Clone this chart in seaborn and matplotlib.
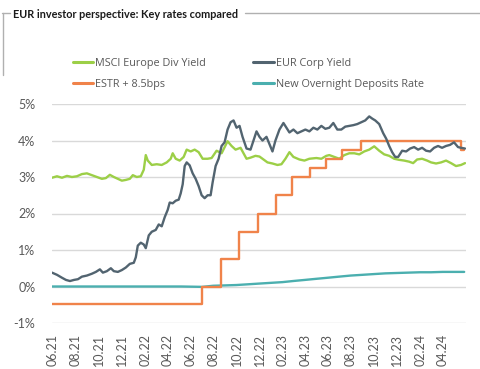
import matplotlib
matplotlib.use("Agg")
import matplotlib.pyplot as plt
import seaborn as sns
import pandas as pd
import numpy as np
from matplotlib.lines import Line2D

sns.set_theme(style="white")
plt.rcParams['font.family'] = ['Lato', 'DejaVu Sans']

# pixel-read positions converted to dates (x px -> date)
START = pd.Timestamp("2021-06-26")
def px_date(x):
    return START + pd.Timedelta(days=(x - 53) / 11.5 * 30.44)

msci_px = [52, 57, 62, 67, 72, 77, 82, 87, 92, 97, 102, 106, 110, 114, 118, 122, 126, 130, 133, 137,
           141, 144, 146, 148, 152, 157, 162, 167, 171, 173, 176, 180, 184, 187, 191, 195, 199, 203,
           208, 212, 217, 222, 228, 232, 236, 241, 247, 251, 256, 260, 264, 268, 273, 278, 282, 286,
           290, 294, 300, 305, 310, 317, 322, 327, 330, 335, 340, 345, 350, 355, 360, 365, 370, 375,
           380, 385, 390, 395, 400, 405, 410, 414, 418, 423, 428, 432, 437, 442, 447, 452, 457, 462, 466]
msci_val = [2.98, 3.02, 2.98, 3.03, 3.0, 3.02, 3.08, 3.1, 3.05, 3.0, 2.95, 2.97, 3.06, 3.0, 2.95, 2.9,
            2.92, 2.95, 3.05, 3.0, 3.02, 3.2, 3.6, 3.45, 3.33, 3.35, 3.33, 3.4, 3.5, 3.65, 3.5, 3.45,
            3.55, 3.75, 3.7, 3.75, 3.68, 3.5, 3.5, 3.52, 3.72, 3.65, 3.98, 3.85, 3.75, 3.8, 3.5, 3.53,
            3.58, 3.56, 3.48, 3.4, 3.37, 3.33, 3.35, 3.5, 3.68, 3.55, 3.48, 3.45, 3.5, 3.52, 3.5, 3.58,
            3.6, 3.55, 3.5, 3.6, 3.65, 3.65, 3.62, 3.7, 3.75, 3.84, 3.72, 3.62, 3.58, 3.5, 3.47, 3.45,
            3.42, 3.38, 3.48, 3.5, 3.45, 3.4, 3.37, 3.4, 3.45, 3.38, 3.3, 3.33, 3.38]

corp_px = [52, 57, 62, 66, 70, 74, 78, 82, 87, 92, 96, 100, 103, 107, 111, 114, 118, 122, 126, 130,
           134, 136, 138, 141, 144, 146, 149, 152, 156, 159, 162, 165, 168, 170, 173, 176, 179, 181,
           183, 185, 187, 190, 193, 196, 199, 202, 205, 208, 211, 213, 216, 219, 222, 225, 228, 231,
           234, 237, 240, 243, 247, 251, 254, 257, 260, 263, 267, 270, 273, 276, 280, 284, 287, 290,
           294, 298, 302, 306, 310, 314, 318, 322, 326, 330, 334, 338, 342, 346, 350, 354, 358, 362,
           366, 370, 373, 376, 380, 384, 387, 390, 393, 396, 399, 403, 407, 411, 415, 419, 423, 427,
           431, 435, 439, 443, 447, 451, 455, 459, 462, 466]
corp_val = [0.38, 0.32, 0.24, 0.18, 0.15, 0.18, 0.2, 0.27, 0.3, 0.35, 0.4, 0.47, 0.38, 0.42, 0.5, 0.42,
            0.4, 0.45, 0.52, 0.62, 0.65, 0.8, 1.12, 1.2, 1.15, 1.05, 1.4, 1.5, 1.55, 1.7, 1.65, 1.9,
            2.1, 2.3, 2.28, 2.35, 2.38, 2.55, 2.8, 3.3, 3.4, 3.32, 3.1, 2.95, 2.75, 2.5, 2.42, 2.5, 2.5,
            2.85, 3.3, 3.5, 3.85, 3.95, 4.3, 4.5, 4.55, 4.35, 4.4, 4.1, 3.78, 3.75, 4.0, 4.25, 4.1, 4.0,
            4.1, 3.9, 3.7, 4.0, 4.3, 4.48, 4.35, 4.22, 4.3, 4.2, 4.25, 4.3, 4.25, 4.35, 4.3, 4.4, 4.32,
            4.35, 4.48, 4.3, 4.3, 4.38, 4.4, 4.42, 4.45, 4.5, 4.55, 4.66, 4.6, 4.55, 4.45, 4.2, 4.05,
            3.85, 3.68, 3.55, 3.55, 3.72, 3.7, 3.78, 3.82, 3.75, 3.8, 3.72, 3.7, 3.8, 3.85, 3.8, 3.85,
            3.88, 3.95, 3.82, 3.8, 3.78]

estr_dates = ["2021-06-21", "2022-01-15", "2022-07-27", "2022-09-14", "2022-11-02", "2022-12-21",
              "2023-02-08", "2023-03-22", "2023-05-10", "2023-06-21", "2023-08-02", "2023-09-20",
              "2024-06-12", "2024-06-21"]
estr_val = [-0.485, -0.49, 0.0, 0.75, 1.5, 2.0, 2.5, 3.0, 3.25, 3.5, 3.75, 4.0, 3.75, 3.75]

dep_dates = ["2021-06-21", "2022-06-01", "2022-07-27", "2022-08-25", "2022-09-25", "2022-10-25",
             "2022-11-25", "2022-12-25", "2023-01-25", "2023-02-25", "2023-03-25", "2023-04-25",
             "2023-05-25", "2023-06-25", "2023-07-25", "2023-08-25", "2023-09-25", "2023-10-25",
             "2023-11-25", "2023-12-25", "2024-01-25", "2024-02-25", "2024-03-25", "2024-04-25",
             "2024-05-25", "2024-06-21"]
dep_val = [0.0, 0.0, -0.01, 0.02, 0.03, 0.04, 0.06, 0.08, 0.10, 0.12, 0.15, 0.18, 0.21, 0.24, 0.27,
           0.30, 0.32, 0.34, 0.36, 0.37, 0.38, 0.39, 0.39, 0.40, 0.40, 0.40]

tick_labels = ["06.21", "08.21", "10.21", "12.21", "02.22", "04.22", "06.22", "08.22", "10.22",
               "12.22", "02.23", "04.23", "06.23", "08.23", "10.23", "12.23", "02.24", "04.24"]

c_green = "#9ccf47"
c_gray = "#526470"
c_orange = "#f0834a"
c_teal = "#4bafaf"

df_msci = pd.DataFrame({"date": [px_date(x) for x in msci_px], "v": msci_val})
df_corp = pd.DataFrame({"date": [px_date(x) for x in corp_px], "v": corp_val})
df_estr = pd.DataFrame({"date": pd.to_datetime(estr_dates), "v": estr_val})
df_dep = pd.DataFrame({"date": pd.to_datetime(dep_dates), "v": dep_val})

fig = plt.figure(figsize=(4.8, 3.69), dpi=100)
ax = fig.add_axes([52/480, 1-323/369, 414/480, (323-104)/369])

lw = 1.7
sns.lineplot(data=df_dep, x="date", y="v", ax=ax, color=c_teal, lw=lw)
sns.lineplot(data=df_msci, x="date", y="v", ax=ax, color=c_green, lw=lw)
sns.lineplot(data=df_estr, x="date", y="v", ax=ax, color=c_orange, lw=lw, drawstyle="steps-post")
sns.lineplot(data=df_corp, x="date", y="v", ax=ax, color=c_gray, lw=lw)

ax.set_ylim(-1, 5)
ax.set_xlim(px_date(52), px_date(467))
ax.set_yticks(range(-1, 6))
ax.set_yticklabels([f"{v}%" for v in range(-1, 6)])
ticks = []
for lab in tick_labels:
    m, y = lab.split(".")
    ticks.append(pd.Timestamp(year=2000 + int(y), month=int(m), day=26))
ax.set_xticks(ticks)
ax.set_xticklabels(tick_labels, rotation=90)
ax.set_xlabel("")
ax.set_ylabel("")
ax.grid(axis="y", color="#d9d9d9", lw=1)
ax.set_axisbelow(True)
for s in ax.spines.values():
    s.set_visible(False)
ax.tick_params(axis="both", length=0, labelcolor="#595959", labelsize=9)
ax.tick_params(axis="y", pad=12)
ax.tick_params(axis="x", pad=8)

# column-major order for a 2-column legend
handles = [Line2D([], [], color=c_green, lw=2.2), Line2D([], [], color=c_orange, lw=2.2),
           Line2D([], [], color=c_gray, lw=2.2), Line2D([], [], color=c_teal, lw=2.2)]
labels = ["MSCI Europe Div Yield", "ESTR + 8.5bps", "EUR Corp Yield", "New Overnight Deposits Rate"]
fig.legend(handles, labels, ncol=2, loc="upper left", bbox_to_anchor=(63/480, 1-48/369),
           frameon=False, handlelength=1.9, handletextpad=0.15, columnspacing=4.4,
           labelspacing=0.9, prop={"family": "Open Sans", "size": 7.8}, labelcolor="#595959")

fig.text(13/480, 1-14/369, "EUR investor perspective: Key rates compared", fontsize=7.8,
         fontweight="bold", color="#1a1a1a", va="center", ha="left")
fig.add_artist(Line2D([2/480, 10/480], [1-13/369, 1-13/369], color="#b0b0b0", lw=1))
fig.add_artist(Line2D([245/480, 1], [1-13/369, 1-13/369], color="#b0b0b0", lw=1))
fig.add_artist(Line2D([3/480, 3/480], [1-13/369, 1-75/369], color="#b0b0b0", lw=1))

fig.savefig("out.png", dpi=100)
